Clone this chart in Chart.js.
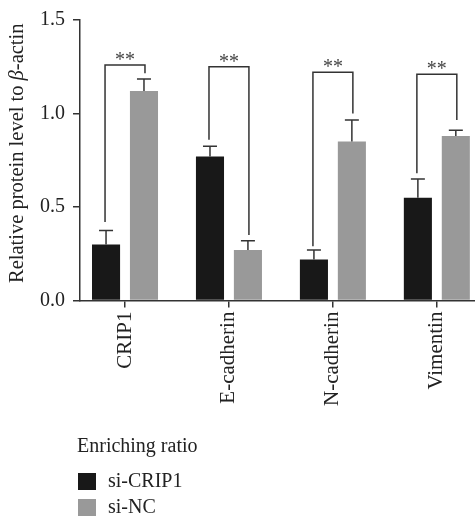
<!DOCTYPE html>
<html>
<head>
<meta charset="utf-8">
<script src="https://cdn.jsdelivr.net/npm/chart.js@4.4.0/dist/chart.umd.min.js"></script>
<style>
  html, body { margin: 0; padding: 0; background: #fff; overflow: hidden; }
</style>
</head>
<body>
<canvas id="grafica" width="475" height="524"></canvas>
<script>
// Datos
const categorias = ['CRIP1', 'E-cadherin', 'N-cadherin', 'Vimentin'];
const siCRIP1 = [0.30, 0.77, 0.22, 0.55];
const siNC = [1.12, 0.27, 0.85, 0.88];
const errCRIP1 = [0.075, 0.055, 0.05, 0.10];
const errNC = [0.065, 0.05, 0.115, 0.03];
// Llaves de significancia (valores en el eje y)
const llaveArriba = [1.26, 1.25, 1.22, 1.21];
const llaveIzq = [0.42, 0.86, 0.29, 0.68];
const llaveDer = [1.215, 0.35, 1.0, 0.965];
const marcas = ['**', '**', '**', '**'];
const ticksY = [0, 0.5, 1.0, 1.5];

const fuente = "'Liberation Serif', 'DejaVu Serif', serif";
const colorTexto = '#222';
const colorLinea = '#333';

// Barras de error y llaves con asteriscos
const pluginExtras = {
  id: 'extras',
  afterDatasetsDraw(chart) {
    const ctx = chart.ctx;
    const y = chart.scales.y;
    const errores = [errCRIP1, errNC];
    ctx.save();
    ctx.strokeStyle = colorLinea;
    ctx.lineWidth = 1.5;
    chart.data.datasets.forEach((ds, d) => {
      chart.getDatasetMeta(d).data.forEach((bar, i) => {
        const top = y.getPixelForValue(ds.data[i] + errores[d][i]);
        ctx.beginPath();
        ctx.moveTo(bar.x, bar.y);
        ctx.lineTo(bar.x, top);
        ctx.moveTo(bar.x - 7, top);
        ctx.lineTo(bar.x + 7, top);
        ctx.stroke();
      });
    });
    const m0 = chart.getDatasetMeta(0).data;
    const m1 = chart.getDatasetMeta(1).data;
    ctx.fillStyle = '#444';
    ctx.font = '20px ' + fuente;
    ctx.textAlign = 'center';
    ctx.textBaseline = 'alphabetic';
    categorias.forEach((c, i) => {
      const x0 = m0[i].x - 1, x1 = m1[i].x + 1;
      const yt = y.getPixelForValue(llaveArriba[i]);
      ctx.beginPath();
      ctx.moveTo(x0, y.getPixelForValue(llaveIzq[i]));
      ctx.lineTo(x0, yt);
      ctx.lineTo(x1, yt);
      ctx.lineTo(x1, y.getPixelForValue(llaveDer[i]));
      ctx.stroke();
      ctx.fillText(marcas[i], (x0 + x1) / 2, yt + 1);
    });
    ctx.restore();
  },
  afterDraw(chart) {
    const ctx = chart.ctx;
    const area = chart.chartArea;
    ctx.save();
    ctx.fillStyle = colorTexto;
    // Título del eje y con beta en cursiva
    const partes = [
      ['Relative protein level to ', 'normal'],
      ['β', 'italic'],
      ['-actin', 'normal']
    ];
    ctx.translate(18, (area.top + area.bottom) / 2 - 7);
    ctx.rotate(-Math.PI / 2);
    ctx.textBaseline = 'middle';
    ctx.textAlign = 'left';
    let total = 0;
    partes.forEach(p => { ctx.font = p[1] + ' 20.5px ' + fuente; total += ctx.measureText(p[0]).width; });
    let x = -total / 2;
    partes.forEach(p => {
      ctx.font = p[1] + ' 20.5px ' + fuente;
      ctx.fillText(p[0], x, 0);
      x += ctx.measureText(p[0]).width;
    });
    ctx.restore();

    // Leyenda
    ctx.save();
    ctx.font = '20px ' + fuente;
    ctx.textBaseline = 'middle';
    ctx.textAlign = 'left';
    ctx.fillStyle = colorTexto;
    ctx.fillText('Enriching ratio', 77, 447);
    chart.data.datasets.forEach((ds, d) => {
      const yy = 473 + d * 26;
      ctx.fillStyle = ds.backgroundColor;
      ctx.fillRect(78, yy, 18, 17);
      ctx.fillStyle = colorTexto;
      ctx.fillText(ds.label, 108, yy + 9);
    });
    ctx.restore();
  }
};

new Chart(document.getElementById('grafica').getContext('2d'), {
  type: 'bar',
  data: {
    labels: categorias,
    datasets: [
      { label: 'si-CRIP1', data: siCRIP1, backgroundColor: '#181818' },
      { label: 'si-NC', data: siNC, backgroundColor: '#999999' }
    ]
  },
  options: {
    responsive: false,
    animation: false,
    categoryPercentage: 0.73,
    barPercentage: 0.74,
    layout: { padding: { top: 0, right: 0, bottom: 114, left: 0 } },
    plugins: { legend: { display: false }, tooltip: { enabled: false } },
    scales: {
      x: {
        offset: true,
        afterBuildTicks: s => { s._startValue = -0.433; s._valueRange = 3.8; },
        grid: { display: true, drawOnChartArea: false, drawTicks: true, tickLength: 7, offset: false, color: colorLinea, lineWidth: 1.5 },
        border: { display: true, color: colorLinea, width: 1.5 },
        ticks: { autoSkip: false, maxRotation: 90, minRotation: 90, padding: 4, color: colorTexto, font: { family: fuente, size: 21 } }
      },
      y: {
        min: 0,
        max: 1.5,
        afterFit: s => { s.width = 80; },
        afterBuildTicks: s => { s.ticks = ticksY.map(v => ({ value: v })); },
        grid: { display: true, drawOnChartArea: false, drawTicks: true, tickLength: 7, color: colorLinea, lineWidth: 1.5 },
        border: { display: true, color: colorLinea, width: 1.5 },
        ticks: { padding: 8, color: colorTexto, font: { family: fuente, size: 20 }, callback: v => v.toFixed(1) }
      }
    }
  },
  plugins: [pluginExtras]
});
</script>
</body>
</html>
